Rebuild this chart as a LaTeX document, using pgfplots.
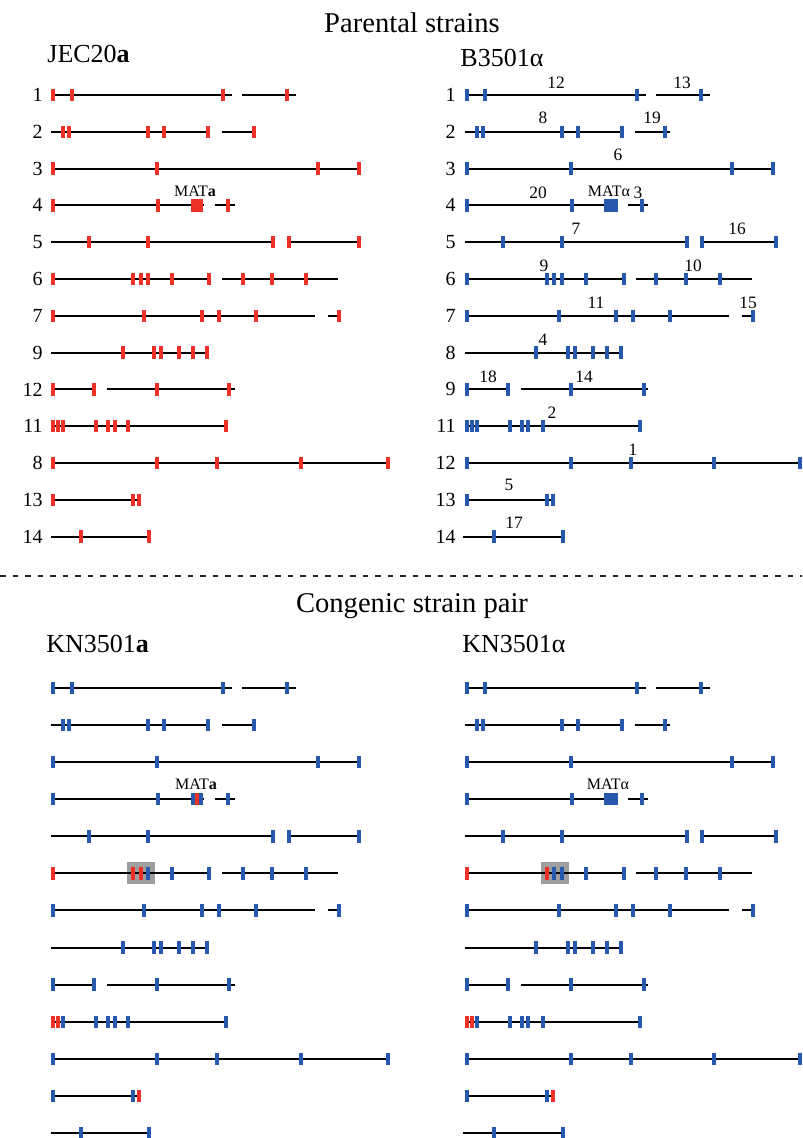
\documentclass[border=0pt]{standalone}
\usepackage{fontspec}
\setmainfont{Liberation Serif}
\usepackage{pgfplots}
\pgfplotsset{compat=1.18}
\usepackage{pgfplotstable}
\definecolor{mred}{RGB}{236,50,40}
\definecolor{mblue}{RGB}{40,88,172}
\definecolor{boxgray}{RGB}{158,158,158}

% chromosome segments, left strains (x in px, y = row index)
\pgfplotstableread{
x y
52 0
232 0
nan nan
242 0
296 0
nan nan
51 1
209 1
nan nan
222 1
254 1
nan nan
53 2
360 2
nan nan
53 3
204 3
nan nan
215 3
235 3
nan nan
51 4
274 4
nan nan
287 4
360 4
nan nan
52 5
210 5
nan nan
222 5
338 5
nan nan
52 6
315 6
nan nan
328 6
339 6
nan nan
51 7
208 7
nan nan
52 8
94 8
nan nan
107 8
235 8
nan nan
52 9
227 9
nan nan
52 10
389 10
nan nan
52 11
137 11
nan nan
51 12
150 12
}\lsegs

\pgfplotstableread{
x y
467 0
646 0
nan nan
656 0
710 0
nan nan
465 1
623 1
nan nan
635 1
670 1
nan nan
467 2
774 2
nan nan
467 3
618 3
nan nan
628 3
648 3
nan nan
465 4
687 4
nan nan
700 4
777 4
nan nan
467 5
625 5
nan nan
636 5
752 5
nan nan
467 6
729 6
nan nan
742 6
753 6
nan nan
465 7
622 7
nan nan
467 8
508 8
nan nan
521 8
648 8
nan nan
465 9
641 9
nan nan
467 10
802 10
nan nan
467 11
555 11
nan nan
463 12
565 12
}\rsegs

% markers
\pgfplotstableread{
x y
53 0
72 0
223 0
287 0
63 1
69 1
148 1
164 1
208 1
254 1
53 2
157 2
318 2
359 2
53 3
158 3
228 3
89 4
148 4
273 4
289 4
359 4
53 5
133 5
141 5
148 5
172 5
209 5
243 5
272 5
306 5
53 6
144 6
202 6
219 6
256 6
339 6
123 7
154 7
161 7
179 7
193 7
207 7
53 8
94 8
157 8
229 8
53 9
58 9
63 9
96 9
108 9
115 9
128 9
226 9
53 10
157 10
217 10
301 10
388 10
53 11
133 11
139 11
81 12
149 12
}\lmarks

\pgfplotstableread{
x y
467 0
485 0
637 0
701 0
477 1
483 1
562 1
578 1
622 1
665 1
467 2
571 2
732 2
773 2
467 3
572 3
642 3
503 4
562 4
687 4
702 4
776 4
467 5
547 5
554 5
562 5
586 5
624 5
656 5
686 5
720 5
467 6
559 6
616 6
633 6
670 6
753 6
536 7
568 7
575 7
593 7
607 7
621 7
467 8
508 8
571 8
644 8
467 9
472 9
477 9
510 9
522 9
528 9
543 9
640 9
467 10
571 10
631 10
714 10
800 10
467 11
547 11
553 11
494 12
563 12
}\rmarks

% mating-type locus blocks
\pgfplotstableread{
x y
193 3
197 3
201 3
}\lmat
\pgfplotstableread{
x y
605.4 3
609.1 3
612.8 3
616.5 3
}\rmat
\pgfplotstableread{
x y
197 3
}\lmatred

% red markers in the congenic pair
\pgfplotstableread{
x y
53 5
133 5
141 5
53 9
58 9
139 11
}\lred
\pgfplotstableread{
x y
467 5
547 5
467 9
472 9
553 11
}\rred

\pgfplotsset{
  chrom/.style={scale only axis, width=401pt, xmin=0, xmax=802, y dir=reverse,
    hide axis, clip=false, unbounded coords=jump},
  seg/.style={black, line width=1pt, no markers},
  mk/.style={only marks, mark=|, mark size=3.1pt, mark options={line width=2.2pt, solid}},
  mkthin/.style={only marks, mark=|, mark size=3.1pt, mark options={line width=1.75pt, solid}},
}

\newcommand\T[4]{\node[inner sep=0pt,#1] at ({#2*0.5pt},{-#3*0.5pt}) {#4};}

\begin{document}
\begin{tikzpicture}
\begin{axis}[chrom, height=288.5pt, ymin=-2.5815, ymax=13.0978, at={(0pt,0pt)}, anchor=north west]
\addplot[draw=none, fill=white] coordinates {(0,-2.5815) (802,-2.5815) (802,13.0978) (0,13.0978)} -- cycle;
\addplot[seg] table {\lsegs};
\addplot[seg] table {\rsegs};
\addplot[mk, color=mred] table {\lmarks};
\addplot[mkthin, color=mred] table {\lmat};
\addplot[mk, color=mblue] table {\rmarks};
\addplot[mkthin, color=mblue] table {\rmat};
\addplot[black!85, line width=0.85pt, dash pattern=on 2.75pt off 3.5pt] coordinates {(0,13.07) (802,13.07)};
\end{axis}
\begin{axis}[chrom, height=280.5pt, ymin=-2.9935, ymax=12.136, at={(0pt,-288.5pt)}, anchor=north west]
\addplot[draw=none, fill=white] coordinates {(0,-2.9935) (802,-2.9935) (802,12.136) (0,12.136)} -- cycle;
\addplot[draw=none, fill=boxgray] coordinates {(127,4.68) (155,4.68) (155,5.29) (127,5.29)} -- cycle;
\addplot[draw=none, fill=boxgray] coordinates {(541,4.68) (569,4.68) (569,5.29) (541,5.29)} -- cycle;
\addplot[seg] table {\lsegs};
\addplot[seg] table {\rsegs};
\addplot[mk, color=mblue] table {\lmarks};
\addplot[mkthin, color=mblue] table {\lmat};
\addplot[mk, color=mblue] table {\rmarks};
\addplot[mkthin, color=mblue] table {\rmat};
\addplot[mk, color=mred] table {\lred};
\addplot[mkthin, color=mred] table {\lmatred};
\addplot[mk, color=mred] table {\rred};
\end{axis}

% titles
\begingroup\fontsize{14.3}{16}\selectfont
\T{anchor=base}{412}{33}{Parental strains}
\T{anchor=base}{412}{612}{Congenic strain pair}
\endgroup
\begingroup\fontsize{13}{15}\selectfont
\T{anchor=base west}{47}{63}{JEC20\textbf{a}}
\T{anchor=base west}{460}{67}{B3501α}
\T{anchor=base west}{46}{652}{KN3501\textbf{a}}
\T{anchor=base west}{462}{652}{KN3501α}
\endgroup
% row numbers
\begingroup\fontsize{10}{12}\selectfont
\T{anchor=east}{43}{95}{1}
\T{anchor=east}{43}{131.8}{2}
\T{anchor=east}{43}{168.6}{3}
\T{anchor=east}{43}{205.4}{4}
\T{anchor=east}{43}{242.2}{5}
\T{anchor=east}{43}{279}{6}
\T{anchor=east}{43}{315.8}{7}
\T{anchor=east}{43}{352.6}{9}
\T{anchor=east}{43}{389.4}{12}
\T{anchor=east}{43}{426.2}{11}
\T{anchor=east}{43}{463}{8}
\T{anchor=east}{43}{499.8}{13}
\T{anchor=east}{43}{536.6}{14}
\T{anchor=east}{456}{95}{1}
\T{anchor=east}{456}{131.8}{2}
\T{anchor=east}{456}{168.6}{3}
\T{anchor=east}{456}{205.4}{4}
\T{anchor=east}{456}{242.2}{5}
\T{anchor=east}{456}{279}{6}
\T{anchor=east}{456}{315.8}{7}
\T{anchor=east}{456}{352.6}{8}
\T{anchor=east}{456}{389.4}{9}
\T{anchor=east}{456}{426.2}{11}
\T{anchor=east}{456}{463}{12}
\T{anchor=east}{456}{499.8}{13}
\T{anchor=east}{456}{536.6}{14}
\endgroup
% chromosome numbers of B3501
\begingroup\fontsize{8.7}{10}\selectfont
\T{}{556}{83}{12}
\T{}{682}{83}{13}
\T{}{543}{118}{8}
\T{}{652}{118}{19}
\T{}{618}{155}{6}
\T{}{538}{193}{20}
\T{}{638}{193}{3}
\T{}{576}{229}{7}
\T{}{737}{229}{16}
\T{}{544}{266}{9}
\T{}{693}{266}{10}
\T{}{596}{303}{11}
\T{}{748}{303}{15}
\T{}{543}{340}{4}
\T{}{488}{377}{18}
\T{}{584}{377}{14}
\T{}{552}{413}{2}
\T{}{633}{450}{1}
\T{}{509}{485}{5}
\T{}{514}{523}{17}
\endgroup
\begingroup\fontsize{8}{10}\selectfont
\T{}{195}{191}{MAT\textbf{a}}
\T{}{609}{191}{MATα}
\T{}{196}{784}{MAT\textbf{a}}
\T{}{608}{784}{MATα}
\endgroup
\pgfresetboundingbox
\path[use as bounding box] (0,0) rectangle (401pt,-569pt);
\end{tikzpicture}
\end{document}
